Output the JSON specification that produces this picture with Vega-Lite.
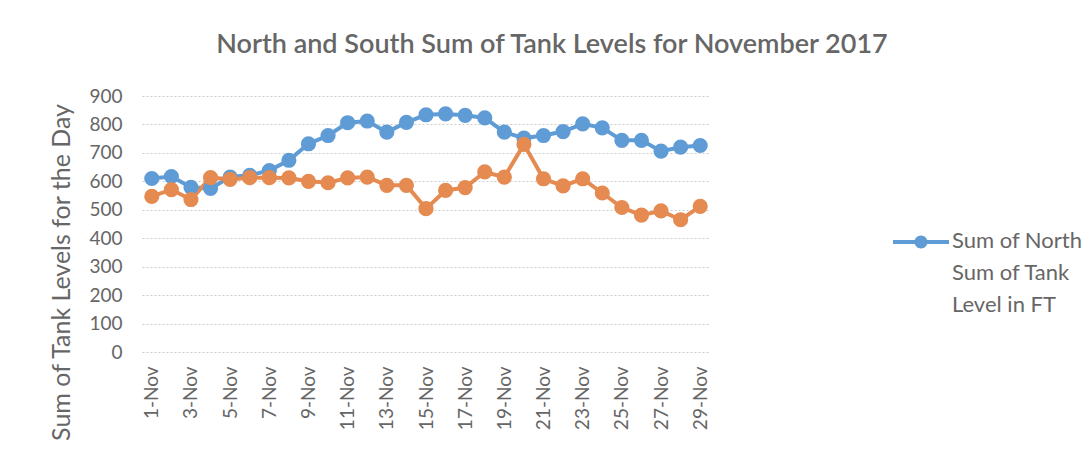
{
  "$schema": "https://vega.github.io/schema/vega-lite/v6.json",
  "width": 568,
  "height": 256,
  "autosize": {"type": "none"},
  "padding": {"left": 142, "top": 96, "right": 380, "bottom": 104},
  "background": "white",
  "title": {
    "text": "North and South Sum of Tank Levels for November 2017",
    "font": "Lato",
    "fontSize": 27,
    "fontWeight": 600,
    "color": "#666666",
    "anchor": "middle",
    "dx": 126,
    "offset": 28
  },
  "data": {
    "values": [
      {"date": "1-Nov", "series": "North", "value": 610},
      {"date": "2-Nov", "series": "North", "value": 617},
      {"date": "3-Nov", "series": "North", "value": 579},
      {"date": "4-Nov", "series": "North", "value": 575},
      {"date": "5-Nov", "series": "North", "value": 615},
      {"date": "6-Nov", "series": "North", "value": 621},
      {"date": "7-Nov", "series": "North", "value": 638},
      {"date": "8-Nov", "series": "North", "value": 674},
      {"date": "9-Nov", "series": "North", "value": 732},
      {"date": "10-Nov", "series": "North", "value": 761},
      {"date": "11-Nov", "series": "North", "value": 806},
      {"date": "12-Nov", "series": "North", "value": 812},
      {"date": "13-Nov", "series": "North", "value": 773},
      {"date": "14-Nov", "series": "North", "value": 807},
      {"date": "15-Nov", "series": "North", "value": 834},
      {"date": "16-Nov", "series": "North", "value": 837},
      {"date": "17-Nov", "series": "North", "value": 832},
      {"date": "18-Nov", "series": "North", "value": 823},
      {"date": "19-Nov", "series": "North", "value": 773},
      {"date": "20-Nov", "series": "North", "value": 752},
      {"date": "21-Nov", "series": "North", "value": 761},
      {"date": "22-Nov", "series": "North", "value": 775},
      {"date": "23-Nov", "series": "North", "value": 802},
      {"date": "24-Nov", "series": "North", "value": 788},
      {"date": "25-Nov", "series": "North", "value": 744},
      {"date": "26-Nov", "series": "North", "value": 744},
      {"date": "27-Nov", "series": "North", "value": 706},
      {"date": "28-Nov", "series": "North", "value": 720},
      {"date": "29-Nov", "series": "North", "value": 726},
      {"date": "1-Nov", "series": "South", "value": 547},
      {"date": "2-Nov", "series": "South", "value": 571},
      {"date": "3-Nov", "series": "South", "value": 536},
      {"date": "4-Nov", "series": "South", "value": 613},
      {"date": "5-Nov", "series": "South", "value": 607},
      {"date": "6-Nov", "series": "South", "value": 613},
      {"date": "7-Nov", "series": "South", "value": 613},
      {"date": "8-Nov", "series": "South", "value": 612},
      {"date": "9-Nov", "series": "South", "value": 600},
      {"date": "10-Nov", "series": "South", "value": 595},
      {"date": "11-Nov", "series": "South", "value": 612},
      {"date": "12-Nov", "series": "South", "value": 615},
      {"date": "13-Nov", "series": "South", "value": 586},
      {"date": "14-Nov", "series": "South", "value": 586},
      {"date": "15-Nov", "series": "South", "value": 504},
      {"date": "16-Nov", "series": "South", "value": 568},
      {"date": "17-Nov", "series": "South", "value": 578},
      {"date": "18-Nov", "series": "South", "value": 633},
      {"date": "19-Nov", "series": "South", "value": 615},
      {"date": "20-Nov", "series": "South", "value": 730},
      {"date": "21-Nov", "series": "South", "value": 609},
      {"date": "22-Nov", "series": "South", "value": 584},
      {"date": "23-Nov", "series": "South", "value": 609},
      {"date": "24-Nov", "series": "South", "value": 559},
      {"date": "25-Nov", "series": "South", "value": 508},
      {"date": "26-Nov", "series": "South", "value": 481},
      {"date": "27-Nov", "series": "South", "value": 496},
      {"date": "28-Nov", "series": "South", "value": 465},
      {"date": "29-Nov", "series": "South", "value": 512}
    ]
  },
  "encoding": {
    "x": {
      "field": "date",
      "type": "ordinal",
      "sort": null,
      "scale": {"type": "point", "padding": 0.5},
      "axis": {
        "title": null,
        "values": ["1-Nov","3-Nov","5-Nov","7-Nov","9-Nov","11-Nov","13-Nov","15-Nov","17-Nov","19-Nov","21-Nov","23-Nov","25-Nov","27-Nov","29-Nov"],
        "labelAngle": -90,
        "labelFont": "Lato",
        "labelFontSize": 19,
        "labelColor": "#666666",
        "labelPadding": 14,
        "ticks": false,
        "domain": false,
        "grid": false
      }
    },
    "y": {
      "field": "value",
      "type": "quantitative",
      "scale": {"domain": [0, 900], "nice": false},
      "axis": {
        "title": "Sum of Tank Levels for the Day",
        "titleFont": "Lato",
        "titleFontSize": 25,
        "titleFontWeight": "normal",
        "titleColor": "#666666",
        "titlePadding": 14,
        "titleY": 176,
        "values": [0,100,200,300,400,500,600,700,800,900],
        "labelFont": "Lato",
        "labelFontSize": 19,
        "labelColor": "#666666",
        "labelPadding": 20,
        "ticks": false,
        "domain": false,
        "grid": true,
        "gridColor": "#cccccc",
        "gridDash": [2, 2],
        "gridWidth": 1
      }
    },
    "color": {
      "field": "series",
      "type": "nominal",
      "scale": {"domain": ["North", "South"], "range": ["#5f9cd6", "#e58a50"]},
      "legend": {
        "title": null,
        "values": ["North"],
        "orient": "none",
        "legendX": 751,
        "legendY": 118,
        "symbolType": "M-1,-0.072 L1,-0.072 L1,0.072 L-1,0.072 Z M0,-0.232 A0.232,0.232 0 1,1 0,0.232 A0.232,0.232 0 1,1 0,-0.232 Z",
        "symbolSize": 3136,
        "symbolStrokeWidth": 0,
        "symbolFillColor": "#5f9cd6",
        "symbolOpacity": 1,
        "labelOffset": 3,
        "labelFont": "Lato",
        "labelFontSize": 22,
        "labelColor": "#666666",
        "labelLimit": 0,
        "labelBaseline": "top",
        "labelExpr": "datum.label == 'North' ? ['Sum of North', 'Sum of Tank', 'Level in FT'] : ''",
        "encode": {
          "symbols": {"update": {"size": {"value": 3136}, "fill": {"value": "#5f9cd6"}, "strokeWidth": {"value": 0}}},
          "labels": {"update": {"lineHeight": {"value": 32}, "dy": {"value": -11}}}
        }
      }
    }
  },
  "layer": [
    {"mark": {"type": "line", "strokeWidth": 4}},
    {"mark": {"type": "circle", "size": 230, "opacity": 1}}
  ],
  "config": {"view": {"stroke": null}}
}
